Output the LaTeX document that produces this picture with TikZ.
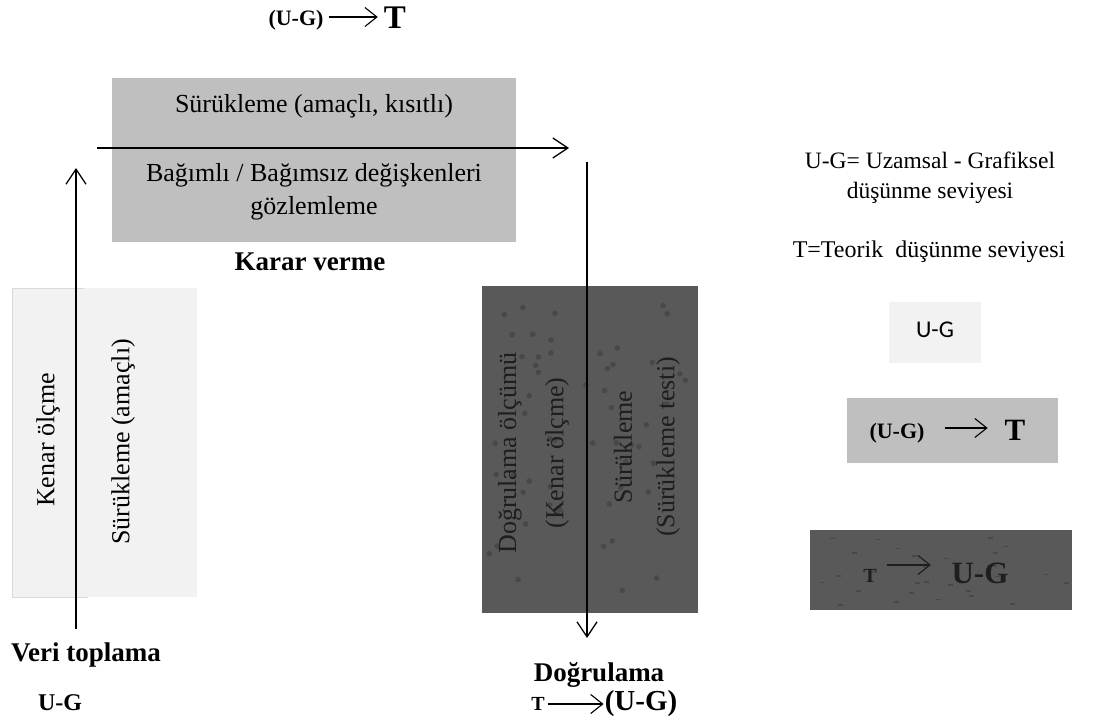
\documentclass[tikz,border=0pt]{standalone}
\usepackage{fontspec}
\setmainfont{Liberation Serif}
\newfontfamily\calibri{Carlito}
\definecolor{lightfill}{HTML}{F2F2F2}
\definecolor{midfill}{HTML}{BFBFBF}
\definecolor{darkfill}{HTML}{595959}
\definecolor{speck}{HTML}{484848}
\definecolor{darktext}{HTML}{1E1E1E}
\usetikzlibrary{arrows.meta, positioning, calc}

\begin{document}
\begin{tikzpicture}[x=1pt, y=-1pt,
    panel/.style={fill=#1, draw=none, inner sep=0pt, anchor=north west},
    boxtext/.style={font=\fontsize{26}{33}\selectfont, align=center, inner sep=0pt},
    steplabel/.style={font=\bfseries\fontsize{27}{30}\selectfont, inner sep=0pt},
    flow/.style={line width=1.3pt, -{Straight Barb[length=15pt, width=20pt, line width=1.3pt]}},
    textarrow/.style={line width=1.1pt, -{Straight Barb[length=12pt, width=19pt, line width=1.1pt]}}
]
    \useasboundingbox (0,0) rectangle (1093,726);

    % top formula
    \node[font=\bfseries\fontsize{22}{24}\selectfont, inner sep=0pt] (topug) at (296,20) {(U-G)};
    \node[font=\bfseries\fontsize{33}{34}\selectfont, inner sep=0pt] (topt) at (395,18) {T};
    \draw[textarrow] ([xshift=5pt, yshift=3pt]topug.east) -- ([xshift=-6pt, yshift=1pt]topt.west);

    % Karar verme
    \node[panel=midfill, minimum width=404pt, minimum height=164pt] (karar) at (112,78) {};
    \node[boxtext] (karar top) at (314,106) {Sürükleme (amaçlı, kısıtlı)};
    \node[boxtext] (karar bottom) at (314,192) {Bağımlı / Bağımsız değişkenleri\\gözlemleme};
    \node[steplabel] (karar label) at (310,262) {Karar verme};

    % Veri toplama
    \node[panel=lightfill, draw=gray!30, line width=0.8pt, minimum width=75pt, minimum height=309pt] (kenar) at (12,288) {};
    \node[panel=lightfill, minimum width=113pt, minimum height=309pt] (suruk) at (84,288) {};
    \node[boxtext, rotate=90] (kenar text) at (48,440) {Kenar ölçme};
    \node[boxtext, rotate=90] (suruk text) at (123,442) {Sürükleme (amaçlı)};
    \node[steplabel] (veri label) at (86,655) {Veri toplama};
    \node[font=\bfseries\fontsize{24}{26}\selectfont, inner sep=0pt] (veri ug) at (60,703) {U-G};

    % Dogrulama
    \node[panel=darkfill, minimum width=216pt, minimum height=327pt] (dogru) at (482,286) {};
    \pgfmathsetseed{11}
    \foreach \i in {1,...,55} {
        \pgfmathsetmacro{\dx}{488+rnd*204}
        \pgfmathsetmacro{\dy}{292+rnd*315}
        \fill[speck] (\dx,\dy) circle (2.8pt);
    }
    \node[boxtext, rotate=90, text=darktext] (dogru a) at (510,453) {Doğrulama ölçümü};
    \node[boxtext, rotate=90, text=darktext] (dogru b) at (557,453) {(Kenar ölçme)};
    \node[boxtext, rotate=90, text=darktext] (dogru c) at (623,447) {Sürükleme};
    \node[boxtext, rotate=90, text=darktext] (dogru d) at (668,447) {(Sürükleme testi)};
    \node[steplabel] (dogru label) at (599,675) {Doğrulama};
    \node[font=\bfseries\fontsize{20}{22}\selectfont, inner sep=0pt] (dogru t) at (538,704) {T};
    \node[font=\bfseries\fontsize{29}{30}\selectfont, inner sep=0pt] (dogru ug) at (641,704) {(U-G)};
    \draw[textarrow] ([xshift=3pt]dogru t.east) -- ([xshift=-1pt]dogru ug.west);

    % process arrows
    \coordinate (up start) at (76,629);
    \coordinate (up end) at (76,168);
    \coordinate (across start) at (97,148);
    \coordinate (across end) at (569,148);
    \coordinate (down start) at (587,162);
    \coordinate (down end) at (587,638);
    \draw[flow] (up start) -- (up end);
    \draw[flow] (across start) -- (across end);
    \draw[flow] (down start) -- (down end);

    % legend
    \node[font=\fontsize{23.5}{30}\selectfont, align=center, inner sep=0pt] (key ug) at (930,178) {U-G= Uzamsal - Grafiksel\\düşünme seviyesi};
    \node[font=\fontsize{24}{30}\selectfont, inner sep=0pt] (key t) at (929,252) {T=Teorik\ \ düşünme seviyesi};

    \node[panel=lightfill, minimum width=92pt, minimum height=61pt] (legend one) at (889,302) {};
    \node[font=\calibri\fontsize{24}{26}\selectfont, inner sep=0pt] (legend one text) at (935,330) {U-G};

    \node[panel=midfill, minimum width=211pt, minimum height=65pt] (legend two) at (847,398) {};
    \node[font=\bfseries\fontsize{22}{24}\selectfont, inner sep=0pt] (legend two ug) at (897,433) {(U-G)};
    \node[font=\bfseries\fontsize{31}{32}\selectfont, inner sep=0pt] (legend two t) at (1015,430) {T};
    \draw[textarrow] ([xshift=20pt, yshift=5pt]legend two ug.east) -- ++(43,0);

    \node[panel=darkfill, minimum width=262pt, minimum height=80pt] (legend three) at (810,530) {};
    \pgfmathsetseed{5}
    \foreach \i in {1,...,30} {
        \pgfmathsetmacro{\dx}{816+rnd*250}
        \pgfmathsetmacro{\dy}{535+rnd*70}
        \draw[speck, line width=1.6pt] (\dx,\dy) -- ++(5,0);
    }
    \node[font=\bfseries\fontsize{20}{22}\selectfont, inner sep=0pt, text=darktext] (legend three t) at (870,576) {T};
    \node[font=\bfseries\fontsize{31}{32}\selectfont, inner sep=0pt, text=darktext] (legend three ug) at (980,573) {U-G};
    \draw[textarrow, darktext] ([xshift=10pt, yshift=11pt]legend three t.east) -- ++(44,0);
\end{tikzpicture}
\end{document}
